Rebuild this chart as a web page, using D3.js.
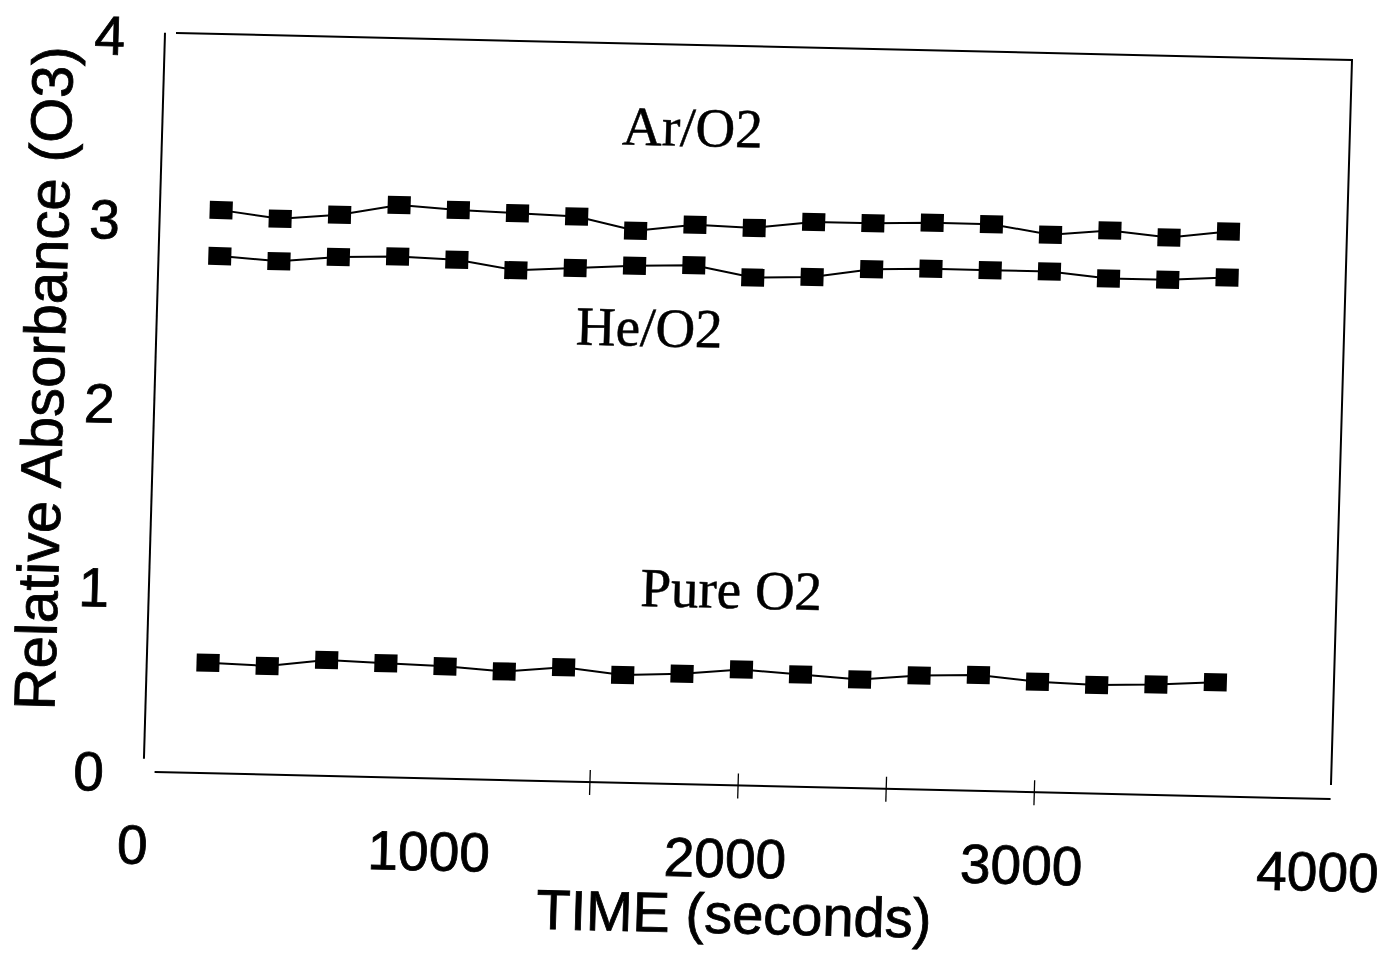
<!DOCTYPE html>
<html>
<head>
<meta charset="utf-8">
<script src="https://cdn.jsdelivr.net/npm/d3@7"></script>
<style>
    body { margin: 0; background: #fff; }
    .tick-label { font-family: "Liberation Sans", Arial, sans-serif; font-size: 55px; fill: #000; stroke: #000; stroke-width: 0.8px; }
    .axis-title { font-family: "Liberation Sans", Arial, sans-serif; fill: #000; stroke: #000; stroke-width: 0.8px; }
    .series-label { font-family: "Liberation Serif", "Times New Roman", serif; font-size: 55px; fill: #000; stroke: #000; stroke-width: 0.5px; }
</style>
</head>
<body>
<div id="chart"></div>
<script>
var svgWidth = 1400;
var svgHeight = 961;

// data
var times = [200, 400, 600, 800, 1000, 1200, 1400, 1600, 1800, 2000, 2200, 2400, 2600, 2800, 3000, 3200, 3400, 3600];
var arO2 = [3.06, 3.02, 3.05, 3.11, 3.09, 3.08, 3.07, 3.00, 3.04, 3.03, 3.07, 3.07, 3.08, 3.08, 3.03, 3.06, 3.03, 3.07];
var heO2 = [2.81, 2.79, 2.82, 2.83, 2.82, 2.77, 2.79, 2.81, 2.82, 2.76, 2.77, 2.82, 2.83, 2.83, 2.83, 2.80, 2.80, 2.82];
var pureO2 = [0.60, 0.59, 0.63, 0.62, 0.61, 0.59, 0.62, 0.585, 0.60, 0.63, 0.61, 0.59, 0.62, 0.63, 0.60, 0.59, 0.60, 0.62];

var xTickLabels = [0, 1000, 2000, 3000, 4000];
var yTickLabels = [0, 1, 2, 3, 4];
var xMinorTicks = [1500, 2000, 2500, 3000];

var seriesNames = ["Ar/O2", "He/O2", "Pure O2"];
var seriesLabelX = [1782, 1656, 1958];
var seriesLabelY = [3.467, 2.375, 0.962];

// plot box size inside the (slightly skewed) scan frame
var width = 1176;
var height = 725;

var svg = d3.select("#chart")
    .append("svg")
    .attr("width", svgWidth)
    .attr("height", svgHeight);

// the scan is tilted a little, so the whole chart sits in a skewed frame
var chartGroup = svg.append("g")
    .attr("transform", "matrix(1, 0.023, -0.029, 1, 176, 33)");

var xLinearScale = d3.scaleLinear()
    .domain([0, 4000])
    .range([-9, 1176]);

var yLinearScale = d3.scaleLinear()
    .domain([0, 4])
    .range([739, 3]);

var y0 = yLinearScale(0);

// top and right border of the plot area
chartGroup.append("path")
    .attr("d", `M0,0 H${width} V${height}`)
    .attr("fill", "none")
    .attr("stroke", "#000")
    .attr("stroke-width", 2);

// y axis line (kept clear of the corner, as in the original)
chartGroup.append("line")
    .attr("x1", -11).attr("x2", -11)
    .attr("y1", 0).attr("y2", 726)
    .attr("stroke", "#000")
    .attr("stroke-width", 2);

// x axis line
chartGroup.append("line")
    .attr("x1", 0).attr("x2", width)
    .attr("y1", y0).attr("y2", y0)
    .attr("stroke", "#000")
    .attr("stroke-width", 2);

chartGroup.selectAll(".minor-tick")
    .data(xMinorTicks)
    .enter()
    .append("line")
    .attr("class", "minor-tick")
    .attr("x1", d => xLinearScale(d))
    .attr("x2", d => xLinearScale(d))
    .attr("y1", y0 - 12)
    .attr("y2", y0 + 13)
    .attr("stroke", "#000")
    .attr("stroke-width", 1.3);

chartGroup.selectAll(".x-label")
    .data(xTickLabels)
    .enter()
    .append("text")
    .attr("class", "tick-label x-label")
    .attr("x", d => xLinearScale(d) - 11)
    .attr("y", 831)
    .attr("text-anchor", "middle")
    .text(d => d);

chartGroup.selectAll(".y-label")
    .data(yTickLabels)
    .enter()
    .append("text")
    .attr("class", "tick-label y-label")
    .attr("x", -66)
    .attr("y", d => yLinearScale(d) + 20)
    .attr("text-anchor", "middle")
    .text(d => d);

chartGroup.append("text")
    .attr("class", "axis-title")
    .attr("x", 583)
    .attr("y", 887)
    .attr("text-anchor", "middle")
    .attr("font-size", "56px")
    .text("TIME (seconds)");

chartGroup.append("text")
    .attr("class", "axis-title")
    .attr("transform", "translate(-102, 348) rotate(-90)")
    .attr("text-anchor", "middle")
    .attr("font-size", "58px")
    .text("Relative Absorbance (O3)");

var allSeries = [arO2, heO2, pureO2];

var line = d3.line()
    .x((d, i) => xLinearScale(times[i]))
    .y(d => yLinearScale(d));

allSeries.forEach(function (values) {
    chartGroup.append("path")
        .datum(values)
        .attr("d", line)
        .attr("fill", "none")
        .attr("stroke", "#000")
        .attr("stroke-width", 2);

    chartGroup.append("g")
        .selectAll("rect")
        .data(values)
        .enter()
        .append("rect")
        .attr("x", (d, i) => xLinearScale(times[i]) - 11.5)
        .attr("y", d => yLinearScale(d) - 9)
        .attr("width", 23)
        .attr("height", 18)
        .attr("fill", "#000");
});

chartGroup.selectAll(".series-label")
    .data(seriesNames)
    .enter()
    .append("text")
    .attr("class", "series-label")
    .attr("x", (d, i) => xLinearScale(seriesLabelX[i]))
    .attr("y", (d, i) => yLinearScale(seriesLabelY[i]))
    .attr("text-anchor", "middle")
    .text(d => d);
</script>
</body>
</html>
